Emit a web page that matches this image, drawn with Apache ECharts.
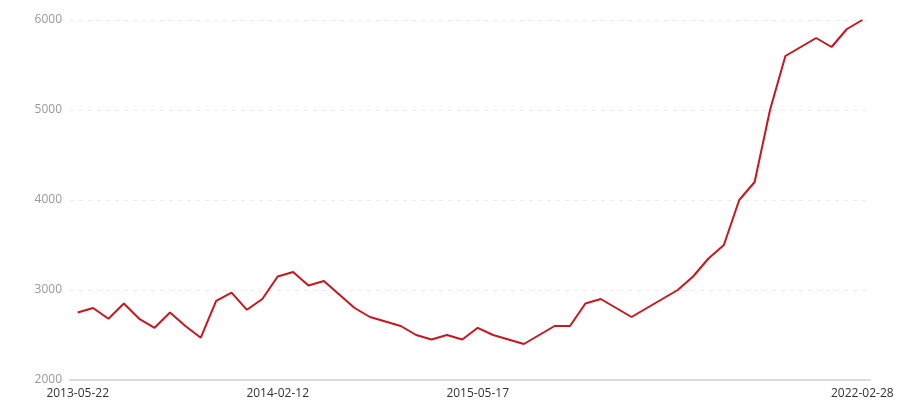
<!DOCTYPE html>
<html>
<head>
<meta charset="utf-8">
<script src="https://cdn.jsdelivr.net/npm/echarts@6/dist/echarts.min.js"></script>
<style>
  html, body { margin: 0; padding: 0; background: #fff; }
  #main { width: 900px; height: 400px; }
</style>
</head>
<body>
<div id="main"></div>
<script>
// 日期
var dates = [
  '2013-05-22','2013-06-11','2013-07-01','2013-07-22','2013-08-12','2013-09-02',
  '2013-09-23','2013-10-14','2013-11-04','2013-11-25','2013-12-16','2014-01-06',
  '2014-01-23','2014-02-12','2014-03-20','2014-04-24','2014-05-29','2014-07-03',
  '2014-08-07','2014-09-11','2014-10-16','2014-11-20','2014-12-25','2015-01-29',
  '2015-03-05','2015-04-09','2015-05-17','2015-08-24','2015-12-01','2016-03-09',
  '2016-06-16','2016-09-23','2016-12-31','2017-04-09','2017-07-17','2017-10-24',
  '2018-01-31','2018-05-10','2018-08-17','2018-11-24','2019-03-03','2019-06-10',
  '2019-09-17','2019-12-25','2020-04-02','2020-07-10','2020-10-17','2021-01-24',
  '2021-05-03','2021-08-10','2021-11-17','2022-02-28'
];

// 数值
var values = [
  2750, 2800, 2680, 2850, 2680, 2580, 2750, 2600, 2470, 2880, 2970, 2780,
  2900, 3150, 3200, 3050, 3100, 2950, 2800, 2700, 2650, 2600, 2500, 2450,
  2500, 2450, 2580, 2500, 2450, 2400, 2500, 2600, 2600, 2850, 2900, 2800,
  2700, 2800, 2900, 3000, 3150, 3350, 3500, 4000, 4200, 5000, 5600, 5700,
  5800, 5700, 5900, 6000
];

// 显示的x轴标签
var shownLabels = ['2013-05-22', '2014-02-12', '2015-05-17', '2022-02-28'];

var yTicks = [2000, 3000, 4000, 5000, 6000];

var chart = echarts.init(document.getElementById('main'));

function showIdx(i, v) {
  return shownLabels.indexOf(dates[i]) > -1;
}

var option = {
  animation: false,
  textStyle: { fontFamily: 'Open Sans, Noto Sans, sans-serif' },
  grid: { left: 70, right: 30, top: 20, bottom: 20 },
  xAxis: {
    type: 'category',
    data: dates,
    boundaryGap: true,
    axisLine: { lineStyle: { color: '#dcdcdc', width: 2 } },
    axisTick: { alignWithLabel: true, interval: showIdx, length: 4, lineStyle: { color: '#ccc' } },
    axisLabel: { interval: showIdx, color: '#333', fontSize: 12, margin: 8 }
  },
  yAxis: {
    type: 'value',
    min: yTicks[0],
    max: yTicks[yTicks.length - 1],
    interval: 1000,
    axisLine: { show: false },
    axisTick: { show: false },
    axisLabel: {
      color: '#999',
      fontSize: 12,
      margin: 8,
      formatter: function (v) { return String(v); }
    },
    splitLine: { lineStyle: { color: '#ebebeb', type: [4, 5] } }
  },
  series: [{
    type: 'line',
    data: values,
    symbol: 'none',
    lineStyle: { color: '#c8161e', width: 2 },
    itemStyle: { color: '#c8161e' }
  }]
};

chart.setOption(option);
</script>
</body>
</html>
